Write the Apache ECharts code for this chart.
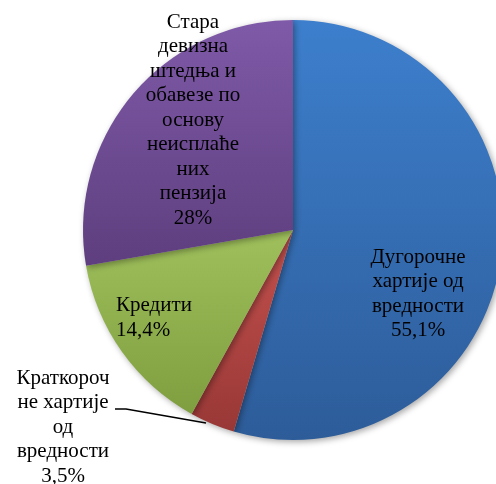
<!DOCTYPE html>
<html>
<head>
<meta charset="utf-8">
<script src="https://cdn.jsdelivr.net/npm/echarts@6/dist/echarts.min.js"></script>
<style>
  html, body { margin: 0; padding: 0; background: #ffffff; }
  #chart { width: 496px; height: 484px; }
</style>
</head>
<body>
<div id="chart"></div>
<script>
// slice names and shares (%), clockwise from 12 o'clock
var names = [
  'Дугорочне\nхартије од\nвредности',
  'Краткороч\nне хартије\nод\nвредности',
  'Кредити',
  'Стара\nдевизна\nштедња и\nобавезе по\nоснову\nнеисплаће\nних\nпензија'
];
var shares = [55.1, 3.5, 14.4, 28];

// gradient colours (top, bottom) per slice
var topColors = ['#3d7fcd', '#c4514e', '#9fc05c', '#7f5aa8'];
var bottomColors = ['#2d5c99', '#983836', '#7f9e3f', '#5e3e7e'];

// where each label sits on the canvas
var labelSpots = [
  { x: 418, y: 294, align: 'center' },
  { x: 63, y: 427, align: 'center' },
  { x: 116, y: 318, align: 'left' },
  { x: 193, y: 120, align: 'center' }
];

var chart = echarts.init(document.getElementById('chart'));

var data = names.map(function (n, i) {
  return {
    name: n,
    value: shares[i],
    itemStyle: {
      color: new echarts.graphic.LinearGradient(0, 0, 0, 1, [
        { offset: 0, color: topColors[i] },
        { offset: 1, color: bottomColors[i] }
      ])
    },
    labelLine: { show: i === 1 }
  };
});

var option = {
  backgroundColor: '#ffffff',
  animation: false,
  series: [{
    type: 'pie',
    center: [293, 230],
    radius: [0, 210],
    startAngle: 90,
    clockwise: true,
    avoidLabelOverlap: false,
    minShowLabelAngle: 0,
    data: data,
    itemStyle: {
      borderWidth: 0,
      shadowBlur: 6,
      shadowOffsetX: 2,
      shadowOffsetY: 2,
      shadowColor: 'rgba(0,0,0,0.35)'
    },
    label: {
      show: true,
      position: 'outside',
      overflow: 'none',
      formatter: function (p) {
        return p.name + '\n' + String(p.value).replace('.', ',') + '%';
      },
      fontFamily: '"Times New Roman", "Liberation Serif", serif',
      fontSize: 21,
      lineHeight: 24.5,
      color: '#000000'
    },
    labelLine: {
      show: true,
      lineStyle: { color: '#000000', width: 1.5 }
    },
    labelLayout: function (p) {
      var s = labelSpots[p.dataIndex];
      var out = {
        x: s.x,
        y: s.y,
        align: s.align,
        verticalAlign: 'middle',
        hideOverlap: false
      };
      if (p.dataIndex === 1) {
        out.labelLinePoints = [[206, 423], [126, 409], [115, 409]];
      }
      return out;
    }
  }]
};

chart.setOption(option);
</script>
</body>
</html>
